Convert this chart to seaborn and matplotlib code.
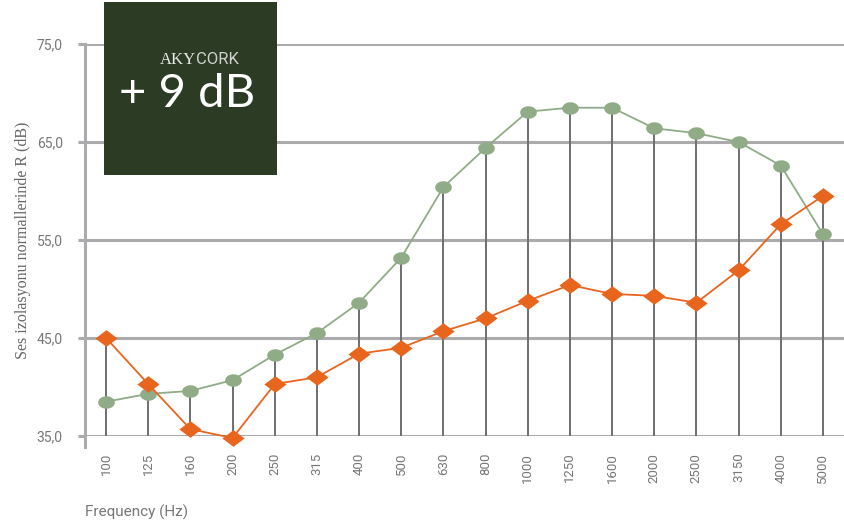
import numpy as np
import pandas as pd
import matplotlib
matplotlib.use("Agg")
import matplotlib.pyplot as plt
import seaborn as sns
from matplotlib.patches import Rectangle

freqs = ["100", "125", "160", "200", "250", "315", "400", "500", "630", "800",
         "1000", "1250", "1600", "2000", "2500", "3150", "4000", "5000"]
akycork = [38.5, 39.3, 39.6, 40.7, 43.3, 45.5, 48.6, 53.2, 60.4, 64.4,
           68.1, 68.5, 68.5, 66.4, 65.9, 65.0, 62.6, 55.6]
reference = [45.0, 40.3, 35.7, 34.8, 40.3, 41.0, 43.4, 44.0, 45.7, 47.0,
             48.8, 50.4, 49.5, 49.3, 48.6, 51.9, 56.6, 59.5]
yticks = [35, 45, 55, 65, 75]
ytick_labels = ["35,0", "45,0", "55,0", "65,0", "75,0"]

sns.set_theme(style="white")
plt.rcParams['font.family'] = ['Roboto', 'DejaVu Sans']

df = pd.DataFrame({"freq": freqs, "akycork": akycork, "reference": reference})

fig = plt.figure(figsize=(8.44, 5.27), dpi=100)
ax = fig.add_axes([85/844, 1-436/527, 1-85/844, (436-44)/527])

GRID = "#ababad"
GREEN = "#8fac86"
ORANGE = "#e8651e"

for y in yticks:
    ax.axhline(y, color=GRID, lw=2.2, zorder=1)

tops = np.maximum(df["akycork"], df["reference"])
ax.vlines(df["freq"], 35, tops, color="#6f6f6f", lw=1.4, zorder=2)

ellipse = [(np.cos(t), 0.75*np.sin(t)) for t in np.linspace(0, 2*np.pi, 40)]
diamond = [(-1, 0), (0, 0.75), (1, 0), (0, -0.75), (-1, 0)]

sns.lineplot(data=df, x="freq", y="akycork", ax=ax, color=GREEN, lw=1.3,
             marker=ellipse, markersize=12, markeredgewidth=0,
             markerfacecolor=GREEN, sort=False, zorder=3, clip_on=False)
sns.lineplot(data=df, x="freq", y="reference", ax=ax, color=ORANGE, lw=1.3,
             marker=diamond, markersize=16, markeredgewidth=0,
             markerfacecolor=ORANGE, sort=False, zorder=4, clip_on=False)

ax.set_xlim(-0.5, len(freqs) - 0.5)
ax.set_ylim(35, 75)
ax.set_yticks(yticks)
ax.set_yticklabels(ytick_labels)
for s in ["top", "right", "bottom"]:
    ax.spines[s].set_visible(False)
ax.spines["left"].set_color(GRID)
ax.spines["left"].set_linewidth(2.2)
ax.spines["left"].set_bounds(33.9, 75)
ax.tick_params(axis="y", length=5, width=2.2, color=GRID, labelcolor="#777777",
               labelsize=10, pad=11, left=True)
ax.tick_params(axis="x", length=0, labelcolor="#777777", labelsize=9.5,
               labelrotation=90, pad=12)
ax.set_xlabel("")
ax.set_ylabel("Ses izolasyonu normallerinde R (dB)", family="Liberation Serif",
              fontsize=11.5, color="#666666", labelpad=4)
fig.text(85/844, 1-512/527, "Frequency (Hz)", fontsize=11, color="#777777",
         ha="left", va="center")

box = Rectangle((104/844, 1-175/527), (277-104)/844, (175-2)/527,
                transform=fig.transFigure, facecolor="#2c3b23", edgecolor="none",
                zorder=10)
fig.patches.append(box)
fig.text(196/844, 1-60/527, "AKY", family="Liberation Serif", fontsize=12,
         color="#e8e8e8", ha="right", va="center", zorder=11)
fig.text(196/844, 1-60/527, "CORK", family="Roboto", fontsize=12,
         color="#d0d0d0", ha="left", va="center", zorder=11)
fig.text(187/844, 1-94/527, "+ 9 dB", fontsize=34, color="white",
         ha="center", va="center", zorder=11, family="Lato")

fig.savefig("out.png", dpi=100)
